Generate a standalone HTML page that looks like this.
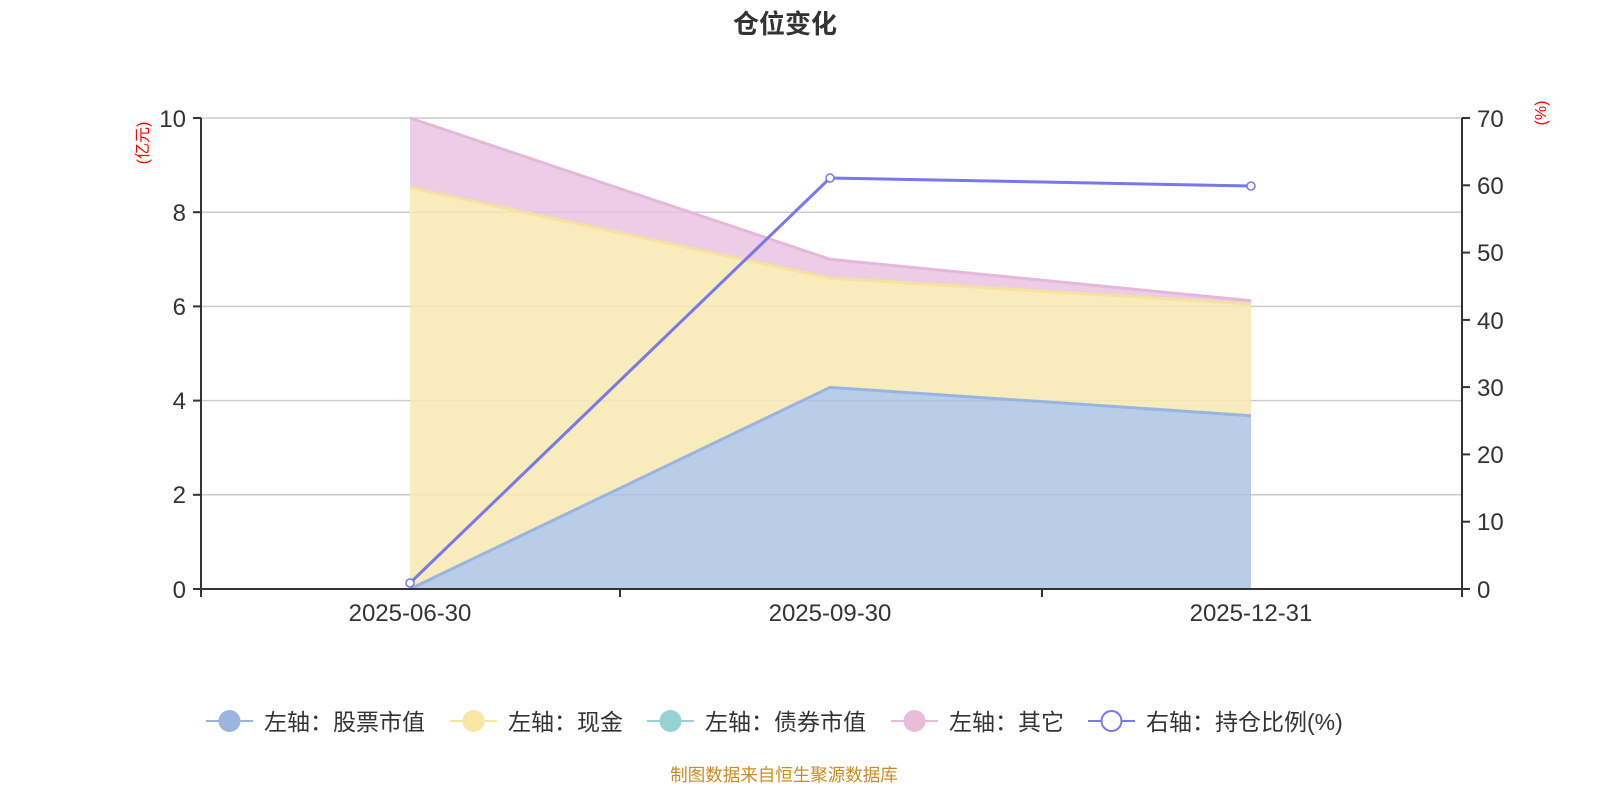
<!DOCTYPE html>
<html><head><meta charset="utf-8"><style>
body{margin:0;background:#fff;}
svg{display:block;font-family:"Liberation Sans","Noto Sans CJK SC",sans-serif;}
</style></head><body>
<svg width="1600" height="800" xmlns="http://www.w3.org/2000/svg">
<text x="785" y="33" text-anchor="middle" font-size="26" font-weight="bold" fill="#333">仓位变化</text>
<g stroke="#ccc" stroke-width="1.5">
<line x1="201" y1="118" x2="1462" y2="118"/>
<line x1="201" y1="212.2" x2="1462" y2="212.2"/>
<line x1="201" y1="306.4" x2="1462" y2="306.4"/>
<line x1="201" y1="400.6" x2="1462" y2="400.6"/>
<line x1="201" y1="494.8" x2="1462" y2="494.8"/>
</g>
<polygon points="410,118 830,259.3 1251,300.8 1251,304 830,278.1 410,187.7" fill="#e9c1df" opacity="0.8"/>
<polygon points="410,187.7 830,278.1 1251,304 1251,415.7 830,387.4 410,589" fill="#f7e8b0" opacity="0.85"/>
<polygon points="410,589 830,387.4 1251,415.7 1251,589" fill="#a8c0e4" opacity="0.8"/>
<polyline points="410,118 830,259.3 1251,300.8" fill="none" stroke="#e5b7d9" stroke-width="3"/>
<polyline points="410,187.7 830,278.1 1251,304" fill="none" stroke="#f5e29e" stroke-width="3"/>
<polyline points="410,589 830,387.4 1251,415.7" fill="none" stroke="#97b5e0" stroke-width="3"/>
<g stroke="#333" stroke-width="2">
<line x1="201" y1="118" x2="201" y2="589"/>
<line x1="1462" y1="118" x2="1462" y2="589"/>
<line x1="201" y1="589" x2="1462" y2="589"/>
<line x1="193" y1="118" x2="201" y2="118"/><line x1="193" y1="212.2" x2="201" y2="212.2"/><line x1="193" y1="306.4" x2="201" y2="306.4"/><line x1="193" y1="400.6" x2="201" y2="400.6"/><line x1="193" y1="494.8" x2="201" y2="494.8"/><line x1="193" y1="589" x2="201" y2="589"/>
<line x1="1462" y1="118" x2="1470" y2="118"/><line x1="1462" y1="185.3" x2="1470" y2="185.3"/><line x1="1462" y1="252.6" x2="1470" y2="252.6"/><line x1="1462" y1="319.9" x2="1470" y2="319.9"/><line x1="1462" y1="387.1" x2="1470" y2="387.1"/><line x1="1462" y1="454.4" x2="1470" y2="454.4"/><line x1="1462" y1="521.7" x2="1470" y2="521.7"/><line x1="1462" y1="589" x2="1470" y2="589"/>
<line x1="201" y1="589" x2="201" y2="597"/><line x1="620" y1="589" x2="620" y2="597"/><line x1="1042" y1="589" x2="1042" y2="597"/><line x1="1462" y1="589" x2="1462" y2="597"/>
</g>
<g font-size="24" fill="#333" text-anchor="end">
<text x="186" y="127">10</text><text x="186" y="221">8</text><text x="186" y="315">6</text><text x="186" y="409">4</text><text x="186" y="503">2</text><text x="186" y="598">0</text>
</g>
<g font-size="24" fill="#333" text-anchor="start">
<text x="1477" y="127">70</text><text x="1477" y="194">60</text><text x="1477" y="261">50</text><text x="1477" y="329">40</text><text x="1477" y="396">30</text><text x="1477" y="463">20</text><text x="1477" y="530">10</text><text x="1477" y="598">0</text>
</g>
<g font-size="24" fill="#333" text-anchor="middle">
<text x="410" y="621">2025-06-30</text><text x="830" y="621">2025-09-30</text><text x="1251" y="621">2025-12-31</text>
</g>
<text transform="translate(148,143) rotate(-90)" text-anchor="middle" font-size="16" fill="#f00">(亿元)</text>
<text transform="translate(1546,113) rotate(-90)" text-anchor="middle" font-size="16" fill="#f00">(%)</text>
<polyline points="410,583 830,178 1251,186" fill="none" stroke="#7777ee" stroke-width="3"/>
<g fill="#fff" stroke="#7777ee" stroke-width="1.5">
<circle cx="410" cy="583" r="4"/><circle cx="830" cy="178" r="4"/><circle cx="1251" cy="186" r="4"/>
</g>
<g font-size="23" fill="#333">
<line x1="206" y1="721" x2="253" y2="721" stroke="#9bb5df" stroke-width="2"/><circle cx="229.5" cy="721" r="11" fill="#9bb5df"/>
<text x="264" y="730">左轴：股票市值</text>
<line x1="450" y1="721" x2="497" y2="721" stroke="#f7e6a4" stroke-width="2"/><circle cx="473.5" cy="721" r="11" fill="#f7e6a4"/>
<text x="508" y="730">左轴：现金</text>
<line x1="647" y1="721" x2="694" y2="721" stroke="#95d3d3" stroke-width="2"/><circle cx="670.5" cy="721" r="11" fill="#95d3d3"/>
<text x="705" y="730">左轴：债券市值</text>
<line x1="891" y1="721" x2="938" y2="721" stroke="#e9bcd9" stroke-width="2"/><circle cx="914.5" cy="721" r="11" fill="#e9bcd9"/>
<text x="949" y="730">左轴：其它</text>
<line x1="1088" y1="721" x2="1135" y2="721" stroke="#7777ee" stroke-width="2"/><circle cx="1111.5" cy="721" r="10" fill="#fff" stroke="#7777ee" stroke-width="2"/>
<text x="1146" y="730">右轴：持仓比例(%)</text>
</g>
<text x="784" y="781" text-anchor="middle" font-size="17.5" fill="#cc8b1f">制图数据来自恒生聚源数据库</text>
</svg>
</body></html>
